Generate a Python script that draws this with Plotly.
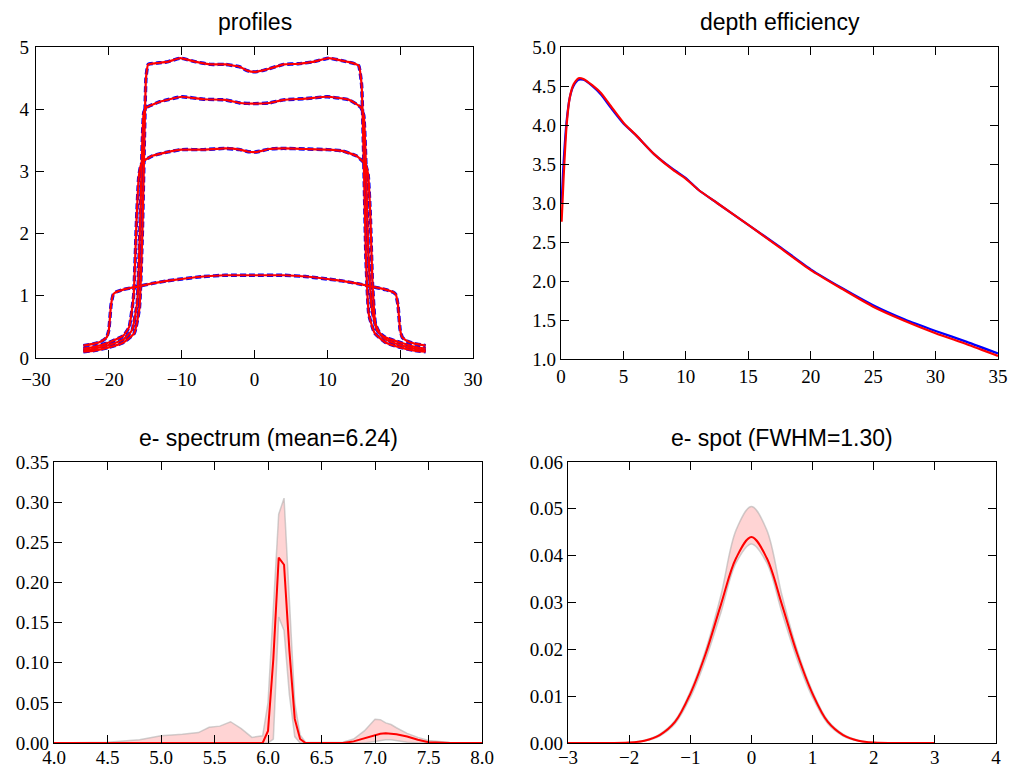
import plotly.graph_objects as go

# ---------------- data ----------------
# profiles (x in mm, relative dose)
prof_a_x = [-23.5, -22, -20, -18, -16.5, -15.8, -15.4, -15.1, -14.9, -14.6, -13.5, -12, -10.2, -8, -6, -4, -2, -1, 0, 1, 2, 4, 6, 8, 10.2, 12, 13.5, 14.3, 14.7, 15.0, 15.3, 15.7, 16.5, 18, 20, 22, 23.5]
prof_a_y = [0.10, 0.12, 0.17, 0.25, 0.40, 0.8, 2.0, 3.6, 4.5, 4.72, 4.74, 4.76, 4.82, 4.76, 4.72, 4.72, 4.68, 4.62, 4.60, 4.62, 4.65, 4.72, 4.73, 4.76, 4.82, 4.78, 4.74, 4.70, 4.4, 3.2, 1.6, 0.7, 0.4, 0.25, 0.17, 0.12, 0.10]
prof_b_x = [-23.5, -22, -20, -18, -16.8, -16.1, -15.7, -15.4, -15.2, -14.8, -13, -10, -7, -4, -2, 0, 2, 4, 7, 10, 13, 14.6, 15.0, 15.3, 15.6, 16.1, 16.8, 18, 20, 22, 23.5]
prof_b_y = [0.12, 0.15, 0.21, 0.30, 0.45, 0.9, 2.2, 3.5, 3.95, 4.03, 4.12, 4.20, 4.16, 4.15, 4.10, 4.09, 4.10, 4.15, 4.17, 4.20, 4.15, 4.03, 3.9, 3.1, 1.8, 0.8, 0.45, 0.30, 0.21, 0.15, 0.12]
prof_c_x = [-23.5, -22, -20, -18, -17.2, -16.6, -16.2, -15.9, -15.6, -15.2, -14, -12, -10, -7, -4, -2, -1, 0, 1, 2, 4, 7, 10, 12, 14, 15.2, 15.6, 15.9, 16.2, 16.6, 17.2, 18, 20, 22, 23.5]
prof_c_y = [0.15, 0.18, 0.25, 0.36, 0.5, 1.0, 2.2, 2.9, 3.1, 3.17, 3.25, 3.31, 3.35, 3.35, 3.37, 3.35, 3.32, 3.31, 3.33, 3.36, 3.37, 3.36, 3.35, 3.33, 3.25, 3.12, 2.95, 2.3, 1.2, 0.55, 0.40, 0.33, 0.25, 0.18, 0.15]
prof_d_x = [-23.5, -22, -21, -20.3, -20.0, -19.7, -19.4, -19, -18, -16, -14, -12, -10, -7, -4, 0, 4, 7, 10, 12, 14, 16, 18, 19, 19.4, 19.7, 20.0, 20.3, 21, 22, 23.5]
prof_d_y = [0.20, 0.23, 0.27, 0.33, 0.45, 0.85, 1.02, 1.06, 1.10, 1.15, 1.20, 1.24, 1.27, 1.31, 1.33, 1.33, 1.33, 1.31, 1.27, 1.24, 1.20, 1.15, 1.10, 1.06, 1.02, 0.85, 0.45, 0.33, 0.27, 0.23, 0.20]

# depth efficiency
depth_x = [0.05, 0.2, 0.45, 0.7, 1.0, 1.4, 1.8, 2.5, 3.2, 4, 5, 6, 7.5, 9, 10, 11, 12.5, 15, 17.5, 20, 22.5, 25, 27.5, 30, 32.5, 35]
depth_calc = [2.76, 3.3, 4.0, 4.35, 4.52, 4.60, 4.59, 4.51, 4.41, 4.24, 4.03, 3.87, 3.62, 3.42, 3.31, 3.17, 3.00, 2.72, 2.43, 2.14, 1.90, 1.67, 1.49, 1.33, 1.19, 1.04]
depth_meas = [3.0, 3.5, 4.05, 4.35, 4.50, 4.58, 4.58, 4.50, 4.39, 4.22, 4.02, 3.87, 3.62, 3.43, 3.32, 3.17, 3.00, 2.72, 2.44, 2.15, 1.91, 1.69, 1.51, 1.36, 1.22, 1.07]

# electron spectrum
spec_x = [4.0, 4.5, 4.8, 5.0, 5.2, 5.35, 5.45, 5.55, 5.65, 5.75, 5.85, 5.95, 6.0, 6.05, 6.1, 6.15, 6.2, 6.25, 6.3, 6.35, 6.5, 6.7, 6.8, 6.9, 7.0, 7.05, 7.1, 7.15, 7.2, 7.3, 7.4, 7.5, 7.7, 8.0]
spec_mean = [0, 0, 0, 0, 0, 0, 0, 0, 0, 0, 0, 0, 0.015, 0.105, 0.231, 0.222, 0.115, 0.03, 0.005, 0, 0, 0, 0.002, 0.006, 0.010, 0.0115, 0.012, 0.0118, 0.011, 0.008, 0.004, 0.001, 0, 0]
spec_upper = [0, 0.001, 0.004, 0.009, 0.011, 0.013, 0.0195, 0.021, 0.0265, 0.018, 0.007, 0.009, 0.05, 0.16, 0.285, 0.305, 0.17, 0.05, 0.01, 0.001, 0.0005, 0.001, 0.005, 0.015, 0.0295, 0.029, 0.025, 0.023, 0.019, 0.012, 0.007, 0.003, 0.0005, 0]
spec_lower = [0, 0, 0, 0, 0, 0, 0, 0, 0, 0, 0, 0, 0, 0.005, 0.157, 0.14, 0.06, 0.008, 0, 0, 0, 0, 0, 0, 0.002, 0.003, 0.004, 0.004, 0.003, 0.001, 0, 0, 0, 0]

# electron spot
spot_x = [-3.0, -2.5, -2.0, -1.75, -1.5, -1.25, -1.0, -0.75, -0.5, -0.25, 0.0, 0.25, 0.5, 0.75, 1.0, 1.25, 1.5, 1.75, 2.0, 2.5, 3.0]
spot_mean = [0, 0, 0.0001, 0.0005, 0.0017, 0.0045, 0.0105, 0.019, 0.0295, 0.0395, 0.044, 0.0395, 0.0295, 0.019, 0.0105, 0.0045, 0.0017, 0.0005, 0.0001, 0, 0]
spot_upper = [0, 0, 0.0001, 0.0006, 0.0019, 0.0048, 0.011, 0.0198, 0.0315, 0.0455, 0.0505, 0.0455, 0.0315, 0.0198, 0.011, 0.0048, 0.0019, 0.0006, 0.0001, 0, 0]
spot_lower = [0, 0, 0, 0.0004, 0.0015, 0.0041, 0.0097, 0.0178, 0.0278, 0.0385, 0.0425, 0.0385, 0.0278, 0.0178, 0.0097, 0.0041, 0.0015, 0.0004, 0, 0, 0]

titles = ["profiles", "depth efficiency", "e- spectrum (mean=6.24)", "e- spot (FWHM=1.30)"]

# ---------------- figure ----------------
W, H = 1009, 767
RED = "rgb(255,0,0)"
BLUE = "rgb(0,0,255)"
BAND_FILL = "rgba(255,0,0,0.17)"
BAND_EDGE = "rgba(170,170,170,0.55)"

fig = go.Figure()

profiles = [(prof_a_x, prof_a_y), (prof_b_x, prof_b_y), (prof_c_x, prof_c_y), (prof_d_x, prof_d_y)]
# measured (blue dashed) under calculated (red)
for px, py in profiles:
    fig.add_trace(go.Scatter(x=px, y=py, mode="lines", xaxis="x", yaxis="y",
                             line=dict(color=BLUE, width=3.4, dash="6px,3px", shape="spline", smoothing=0.4),
                             showlegend=False))
for px, py in profiles:
    fig.add_trace(go.Scatter(x=px, y=py, mode="lines", xaxis="x", yaxis="y",
                             line=dict(color=RED, width=2.2, shape="spline", smoothing=0.4),
                             showlegend=False))

# depth efficiency
fig.add_trace(go.Scatter(x=depth_x, y=depth_meas, mode="lines", xaxis="x2", yaxis="y2",
                         line=dict(color=BLUE, width=2.2, shape="spline", smoothing=0.6), showlegend=False))
fig.add_trace(go.Scatter(x=depth_x, y=depth_calc, mode="lines", xaxis="x2", yaxis="y2",
                         line=dict(color=RED, width=2.2, shape="spline", smoothing=0.6), showlegend=False))

# spectrum band + mean
fig.add_trace(go.Scatter(x=spec_x, y=spec_lower, mode="lines", xaxis="x3", yaxis="y3",
                         line=dict(color=BAND_EDGE, width=1.5), showlegend=False))
fig.add_trace(go.Scatter(x=spec_x, y=spec_upper, mode="lines", xaxis="x3", yaxis="y3", fill="tonexty",
                         fillcolor=BAND_FILL, line=dict(color=BAND_EDGE, width=1.5), showlegend=False))
fig.add_trace(go.Scatter(x=spec_x, y=spec_mean, mode="lines", xaxis="x3", yaxis="y3",
                         line=dict(color=RED, width=2), showlegend=False))

# spot band + mean
fig.add_trace(go.Scatter(x=spot_x, y=spot_lower, mode="lines", xaxis="x4", yaxis="y4",
                         line=dict(color=BAND_EDGE, width=1.5, shape="spline"), showlegend=False))
fig.add_trace(go.Scatter(x=spot_x, y=spot_upper, mode="lines", xaxis="x4", yaxis="y4", fill="tonexty",
                         fillcolor=BAND_FILL, line=dict(color=BAND_EDGE, width=1.5, shape="spline"), showlegend=False))
fig.add_trace(go.Scatter(x=spot_x, y=spot_mean, mode="lines", xaxis="x4", yaxis="y4",
                         line=dict(color=RED, width=2, shape="spline"), showlegend=False))

TICKFONT = dict(family="Liberation Serif, DejaVu Serif, serif", size=19, color="black")


def ax(domain, rng, dtick, fmt=None, anchor=None, standoff=0):
    d = dict(domain=domain, range=rng, dtick=dtick, tick0=rng[0],
             showgrid=False, zeroline=False, showline=True, linecolor="black", linewidth=1.2,
             mirror="allticks", ticks="inside", ticklen=8, tickwidth=1, tickcolor="black",
             tickfont=TICKFONT, anchor=anchor, fixedrange=True, automargin=False,
             ticklabelstandoff=standoff)
    if fmt:
        d["tickformat"] = fmt
    return d


def fx(px):
    return px / W


def fy(py):
    return 1 - py / H


fig.update_layout(
    width=W, height=H, margin=dict(l=0, r=0, t=0, b=0, pad=0), autosize=False,
    paper_bgcolor="white", plot_bgcolor="white", showlegend=False,
    xaxis=ax([fx(36), fx(473)], [-30, 30], 10, anchor="y", standoff=4),
    yaxis=ax([fy(358), fy(47)], [0, 5], 1, anchor="x", standoff=2),
    xaxis2=ax([fx(561), fx(998)], [0, 35], 5, anchor="y2"),
    yaxis2=ax([fy(359), fy(47)], [1, 5], 0.5, fmt=".1f", anchor="x2"),
    xaxis3=ax([fx(54), fx(482)], [4, 8], 0.5, fmt=".1f", anchor="y3", standoff=-3),
    yaxis3=ax([fy(743), fy(462)], [0, 0.35], 0.05, fmt=".2f", anchor="x3"),
    xaxis4=ax([fx(568), fx(996)], [-3, 4], 1, anchor="y4", standoff=-3),
    yaxis4=ax([fy(743), fy(462)], [0, 0.06], 0.01, fmt=".2f", anchor="x4"),
)

TITLEFONT = dict(family="Liberation Sans, Arial, sans-serif", size=23, color="black")
title_pos = [(254.5, 22), (779.5, 22), (268, 438), (782, 438)]
for t, (tx, ty) in zip(titles, title_pos):
    fig.add_annotation(text=t, x=fx(tx), y=fy(ty), xref="paper", yref="paper",
                       showarrow=False, font=TITLEFONT, xanchor="center", yanchor="middle")

fig.write_html("out.html", config={"displayModeBar": False, "staticPlot": True})
with open("out.html", "r", encoding="utf-8") as f:
    html = f.read()
html = html.replace("<head>", "<head><style>html,body{margin:0;padding:0;overflow:hidden;}</style>", 1)
with open("out.html", "w", encoding="utf-8") as f:
    f.write(html)
